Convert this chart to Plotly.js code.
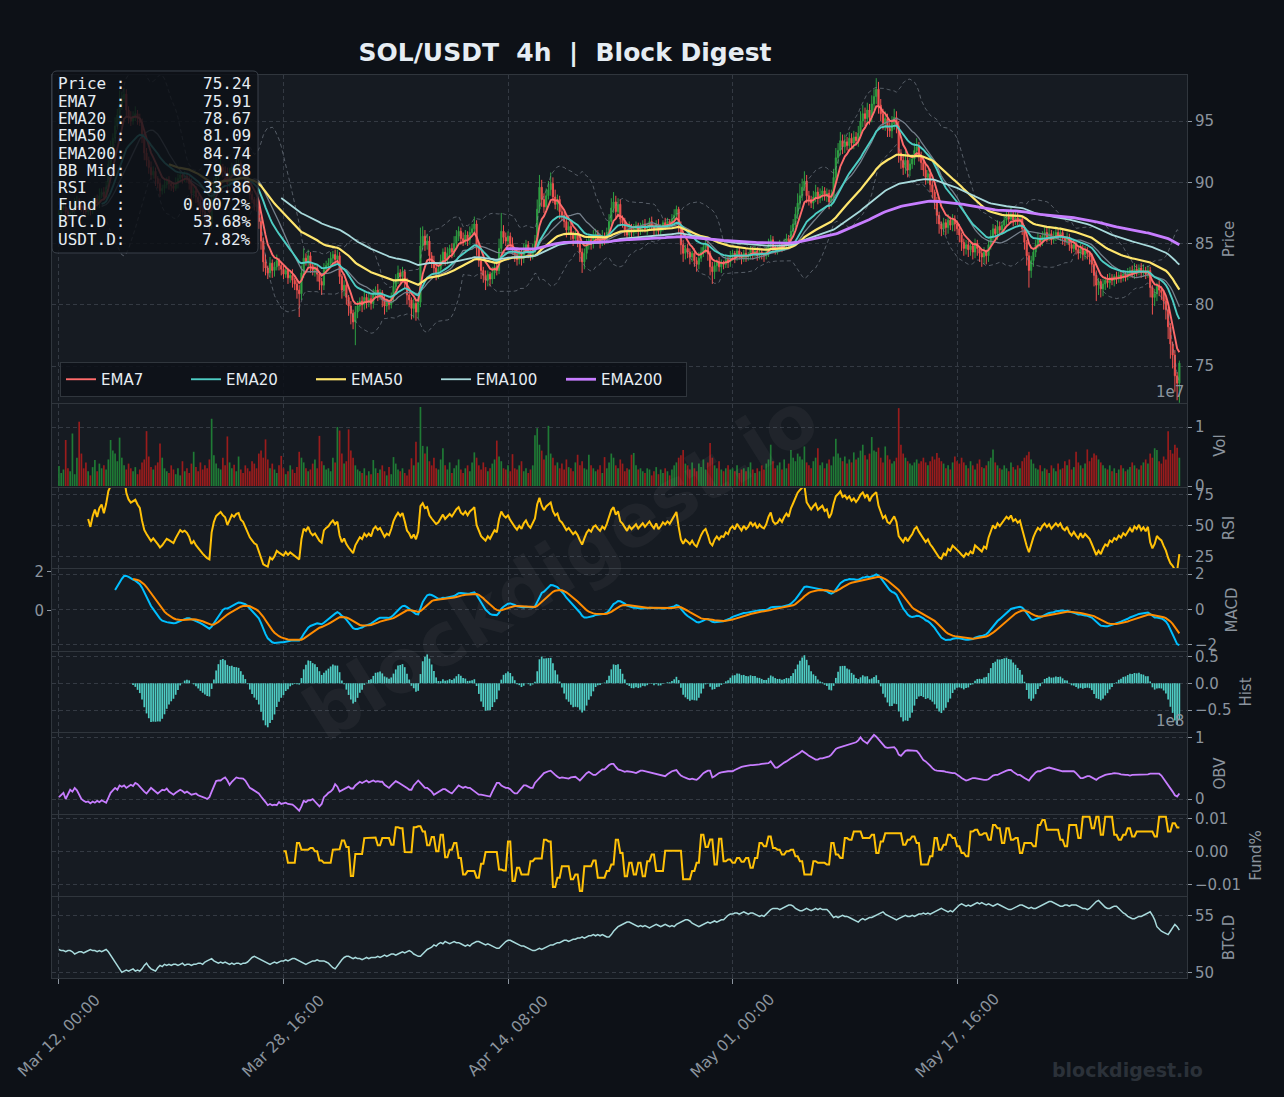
<!DOCTYPE html>
<html><head><meta charset="utf-8">
<script src="https://cdn.plot.ly/plotly-3.0.1.min.js"></script>
<style>html,body{margin:0;padding:0;background:#0d1117;}#chart{width:1284px;height:1097px;}</style>
</head><body><div id="chart"></div>
<script>
// ---------------- DATA ----------------
const tickIdx = [0, 100, 200, 300, 400];
const tickLabels = ['Mar 12, 00:00', 'Mar 28, 16:00', 'Apr 14, 08:00', 'May 01, 00:00', 'May 17, 16:00'];
const firstOpen = 87.3;
// 4h closes (SOL/USDT)
const closes = [
87.5,87.9,88.0,87.6,87.2,87.5,87.8,88.4,88.5,88.1,88.0,87.7,87.6,88.0,87.7,88.2,88.6,88.3,88.9,89.2,
88.8,89.6,91.5,92.8,93.6,94.6,95.5,96.3,96.8,97.2,95.9,95.3,95.0,95.4,95.6,95.2,94.9,93.6,92.4,91.8,
91.2,90.6,90.9,90.3,89.9,89.3,89.5,89.8,90.1,89.9,89.7,89.5,89.9,90.3,90.6,90.4,90.5,90.3,89.9,89.1,
89.3,88.8,88.4,87.9,87.6,87.2,86.8,86.6,88.6,89.8,90.6,90.9,91.2,90.9,90.7,89.9,90.6,91.2,91.0,91.4,
91.5,90.9,90.7,90.2,89.6,89.0,88.6,88.2,88.0,86.8,85.2,83.5,83.0,82.6,83.4,82.8,83.1,83.6,83.2,82.9,
82.5,82.8,82.2,82.4,82.0,81.7,81.2,80.9,82.6,83.8,83.5,84.0,83.2,82.8,83.0,82.5,81.9,81.6,82.9,83.2,
83.4,83.8,84.1,83.7,84.0,82.3,81.2,81.6,80.6,79.9,79.3,78.6,79.4,79.9,80.3,80.0,80.6,80.2,80.5,80.1,
80.9,81.2,80.8,81.0,80.4,79.9,80.2,80.0,80.6,81.5,82.1,82.6,82.3,82.7,81.9,80.8,80.4,79.7,80.1,79.4,
80.2,84.8,85.6,84.9,85.2,84.0,83.5,83.0,82.6,82.9,83.6,84.3,83.7,84.2,84.6,84.3,85.0,85.6,86.0,85.4,
85.2,85.7,85.3,85.9,86.2,86.6,84.6,83.6,82.8,82.4,82.0,82.5,82.1,82.6,83.1,82.8,84.6,86.0,85.5,85.2,
85.6,85.0,84.5,84.1,83.7,84.2,83.8,84.5,84.9,84.3,84.0,84.6,85.2,87.8,89.6,88.6,88.0,88.9,89.4,89.9,
88.8,88.2,88.6,87.6,87.3,86.8,86.1,86.4,85.8,85.4,85.7,85.2,84.3,83.5,84.2,84.9,85.3,85.0,85.6,85.8,
85.4,85.1,85.6,85.3,85.9,86.8,87.9,88.4,87.6,88.2,87.0,86.7,86.1,85.7,86.3,85.9,86.2,86.5,86.0,86.3,
86.6,86.2,86.5,86.8,86.4,86.1,86.6,86.0,86.3,86.7,86.5,86.8,86.6,87.0,87.3,87.8,86.5,84.9,84.2,84.6,
84.3,83.9,84.2,83.6,83.3,83.8,84.3,84.7,84.9,84.2,83.1,82.7,83.2,83.5,83.1,83.4,83.3,83.7,83.5,84.0,
84.2,83.9,84.4,84.1,83.8,84.2,83.9,84.1,84.5,84.2,84.4,84.0,84.3,84.1,84.0,84.3,84.9,85.3,84.7,84.5,
84.6,84.9,84.7,85.1,85.4,85.2,86.0,86.6,87.4,88.3,88.9,89.6,90.1,88.9,88.6,88.3,88.8,89.2,88.7,89.0,
89.3,88.9,89.1,88.4,88.9,90.4,92.0,92.6,93.4,92.9,93.3,93.0,93.6,93.2,93.7,93.4,94.0,95.0,95.6,95.2,
95.9,95.3,96.4,97.0,97.6,96.3,95.6,94.8,95.2,94.4,94.2,94.8,95.3,94.6,92.4,91.8,91.2,91.8,91.0,91.5,
91.9,92.6,92.9,92.2,91.6,91.0,90.4,90.7,89.8,89.2,88.4,87.3,86.6,86.2,86.7,86.3,86.9,86.5,87.0,86.6,
86.2,85.7,85.1,84.6,84.9,84.5,84.8,84.3,85.0,84.6,84.2,83.9,84.3,84.0,84.9,85.6,86.2,85.8,86.4,86.1,
86.5,86.9,87.2,87.0,87.4,86.9,87.1,86.8,87.0,86.2,85.1,84.0,82.8,83.6,84.3,84.9,85.4,85.1,85.6,85.9,
85.5,85.8,85.3,85.6,85.9,85.6,85.9,85.4,85.2,85.5,84.9,84.6,84.9,84.5,84.2,84.6,84.1,84.4,84.2,83.9,
83.3,82.4,81.6,81.9,81.3,81.7,82.0,81.8,82.2,82.0,82.3,82.1,82.4,82.2,82.5,82.3,82.6,82.8,82.5,82.9,
82.7,83.0,82.6,82.8,82.5,82.8,81.4,80.6,80.9,81.5,81.2,81.0,80.3,79.6,78.2,76.8,75.9,74.2,73.6,75.24
];
// upper / lower wick lengths, in tenths of a dollar
const wickUp = [
3,2,4,2,3,5,2,3,4,2,3,2,4,3,2,5,3,4,6,3,
4,5,3,6,4,7,5,12,6,5,4,3,5,4,6,3,4,3,5,4,
3,5,4,3,2,4,3,5,3,4,2,3,5,4,3,2,4,3,2,4,
3,4,2,3,5,2,3,4,8,6,5,4,7,3,4,5,6,4,3,5,
4,3,5,2,3,4,3,2,5,3,4,3,6,2,5,3,4,5,2,3,
3,4,2,3,5,2,3,4,6,8,4,5,3,2,4,3,2,3,5,4,
4,5,3,4,5,3,2,4,3,2,4,3,5,4,3,4,5,3,4,3,
4,3,5,3,2,4,3,2,4,5,4,6,3,4,2,3,4,2,4,3,
5,15,8,5,6,4,3,5,2,4,5,3,4,5,3,4,6,5,4,3,
5,4,3,5,4,6,3,4,2,3,4,3,2,5,4,3,8,15,5,4,
4,3,5,2,3,4,3,5,4,3,2,4,5,8,10,6,5,6,7,9,
5,6,4,3,4,3,5,4,3,2,4,3,2,3,4,5,4,3,5,4,
3,4,5,3,4,6,8,8,5,5,4,3,4,3,5,3,4,3,2,4,
3,4,2,3,4,2,3,4,3,2,4,3,2,4,5,3,2,3,4,3,
4,3,2,4,3,5,4,3,5,3,2,4,3,2,4,3,2,4,3,4,
3,2,4,3,2,3,4,2,3,2,4,3,2,3,2,4,5,4,3,2,
3,4,2,3,4,3,5,4,6,8,10,7,8,5,4,3,5,6,4,5,
4,3,4,3,5,7,8,6,7,5,6,4,5,4,5,4,6,8,7,5,
6,5,7,6,9,6,5,4,6,4,5,6,7,5,4,3,5,8,4,5,
4,6,7,4,3,4,5,3,4,3,2,4,3,2,4,3,5,3,4,3,
3,4,2,3,4,3,2,3,4,3,2,3,4,2,4,5,4,3,5,4,
3,4,5,4,6,3,5,4,3,2,3,2,3,4,3,4,5,3,4,5,
4,5,3,4,5,3,4,3,2,4,3,2,4,3,2,4,3,4,3,2,
3,2,4,3,2,4,3,5,4,3,2,4,3,4,3,2,4,3,4,5,
4,3,4,5,3,4,3,2,4,3,5,3,2,3,2,3,2,4,3,2
];
const wickDown = [
3,4,2,3,5,3,2,4,3,2,4,3,2,3,4,3,2,3,4,2,
3,2,4,3,2,4,3,5,4,3,6,5,4,3,4,5,3,4,6,5,
5,4,3,6,4,5,3,4,3,5,4,3,2,4,3,5,4,3,5,6,
4,5,3,5,4,6,5,7,4,3,5,4,3,5,4,6,3,4,5,3,
4,5,3,4,5,4,3,5,4,6,7,8,6,5,4,6,5,3,4,5,
4,3,5,4,6,5,7,19,5,4,3,5,6,4,5,6,7,8,4,3,
4,3,5,4,3,6,7,5,6,8,9,6,19,5,4,6,4,5,4,5,
4,3,5,4,6,7,5,4,3,4,3,4,5,4,6,8,6,9,8,7,
5,4,3,5,4,6,5,4,6,5,3,4,5,4,3,5,4,3,4,5,
4,3,5,4,3,4,6,5,7,6,8,5,6,4,5,4,3,4,5,4,
3,5,4,6,5,4,6,4,3,5,4,3,4,5,3,6,5,4,3,5,
5,4,5,6,4,5,6,4,5,6,4,5,8,9,6,5,4,5,4,3,
4,5,3,4,3,4,3,4,5,4,5,4,5,4,3,4,3,4,5,3,
4,3,5,4,3,5,4,3,4,3,4,3,4,3,4,3,6,8,7,5,
5,6,4,5,6,4,3,4,5,6,7,10,6,5,4,5,4,3,5,4,
4,5,3,4,5,3,4,3,4,5,3,4,3,4,5,3,4,3,5,4,
4,3,4,3,4,5,3,4,3,4,5,4,3,6,5,4,5,4,5,4,
5,4,5,6,4,5,4,5,4,6,5,4,5,4,5,4,5,4,5,6,
5,6,4,5,6,7,6,5,6,7,5,6,5,6,8,7,6,5,6,5,
4,5,4,5,6,5,6,5,6,5,6,7,8,6,5,6,5,4,5,6,
5,6,7,6,5,6,5,6,5,6,7,8,6,7,5,4,5,4,5,4,
4,5,4,3,4,5,4,3,4,5,6,8,14,6,5,4,3,4,3,4,
4,3,4,3,4,3,4,5,4,3,5,4,3,4,5,4,5,4,5,6,
7,9,13,8,7,6,5,4,5,4,5,4,3,4,3,4,3,4,3,4,
4,3,4,3,4,3,8,14,7,6,5,6,7,8,10,12,11,13,14,16
];
// volume in units of 1e5
const volume = [
34,22,28,78,30,25,89,20,48,109,55,30,40,25,18,32,44,25,38,30,
35,28,45,78,60,55,42,82,48,35,28,38,30,25,32,20,28,40,45,93,
50,32,28,35,40,72,48,30,25,22,35,28,20,30,18,42,25,30,22,38,
58,32,25,40,28,35,30,45,114,52,38,30,28,48,35,84,40,30,36,25,
50,28,22,35,30,25,42,38,30,55,60,48,79,45,30,38,28,22,35,51,
30,20,25,35,28,22,32,58,48,40,30,25,28,38,45,30,85,42,35,28,
30,25,48,40,100,94,55,38,42,96,60,48,35,28,25,22,30,18,25,20,
44,30,22,28,35,25,18,32,20,49,38,28,25,30,22,18,28,47,35,75,
40,134,68,55,67,42,35,48,30,28,45,64,35,28,40,22,30,35,45,28,
22,30,35,25,40,57,48,35,28,40,32,25,30,38,45,77,50,42,30,28,
35,25,54,30,28,35,42,25,30,22,28,35,86,98,70,60,45,52,102,55,
48,35,40,30,38,28,45,32,30,25,40,53,35,42,30,28,53,35,30,25,
28,35,22,49,30,40,55,48,35,30,45,38,25,30,28,53,56,35,28,30,
25,22,30,28,18,25,32,20,28,22,30,25,18,28,35,40,48,52,61,38,
35,28,40,30,25,38,32,45,28,40,73,48,35,30,42,28,25,30,35,28,
30,25,35,22,28,30,25,32,40,28,22,30,25,35,28,38,45,70,42,30,
35,40,28,45,30,38,61,48,42,55,50,45,67,40,35,30,42,48,64,35,
40,30,38,45,35,50,80,55,48,42,50,38,45,40,57,45,48,60,70,52,
45,55,83,60,58,65,48,40,67,52,45,38,42,48,132,70,55,48,42,38,
35,40,45,38,42,48,40,35,42,50,45,56,48,42,38,30,35,28,40,50,
42,38,48,40,35,30,42,35,28,38,45,32,30,35,42,48,62,40,35,30,
28,35,30,25,40,32,28,35,30,42,48,52,58,45,38,30,28,35,25,30,
28,22,35,30,25,38,28,30,42,35,45,28,32,58,40,35,30,38,62,42,
48,55,52,45,40,35,30,28,35,25,30,22,28,35,30,25,28,32,40,35,
30,28,35,40,45,38,55,48,64,61,42,38,50,45,93,61,55,70,65,48
];
// on-balance volume in units of 1e6
const obv = [
3,6,10,0,8,15,12,18,14,6,0,-3,-5,-4,-7,-4,-6,-3,-5,-2,
-4,-6,2,10,14,18,15,22,20,22,18,20,23,21,26,24,20,15,12,9,
14,18,15,12,9,12,15,14,17,12,10,7,10,12,15,13,10,12,9,7,
8,9,6,5,4,2,0,3,12,20,29,30,30,33,35,30,23,28,32,35,
34,33,33,30,25,18,16,14,12,9,4,0,-5,-10,-8,-10,-9,-10,-5,-8,
-7,-6,-8,-9,-9,-12,-15,-19,-12,-3,-5,-2,-2,0,-4,-8,-12,-8,3,6,
10,12,16,24,20,12,14,16,18,20,17,17,22,25,28,26,28,30,27,29,
30,28,29,28,28,23,20,18,22,26,29,27,25,23,20,18,15,15,22,27,
30,26,22,18,18,15,12,7,9,12,14,16,16,13,11,9,14,18,22,20,
18,20,18,18,15,12,10,7,7,6,5,4,4,12,20,26,26,22,20,18,
18,16,12,9,9,14,18,22,22,20,18,18,26,30,35,38,42,44,45,46,
42,39,36,34,35,34,33,33,35,36,36,33,30,34,38,42,44,41,39,39,
42,45,48,48,52,55,57,57,52,48,47,46,44,45,45,44,43,42,44,46,
46,45,44,43,42,42,41,40,39,38,37,40,43,45,46,47,42,38,36,34,
33,32,33,32,31,34,38,42,44,46,46,35,37,40,42,43,44,44,45,45,
45,47,49,51,52,53,54,54,55,55,55,56,56,57,57,57,58,61,55,51,
51,54,57,59,61,64,66,68,70,72,75,78,76,73,70,68,66,64,64,66,
66,67,67,69,72,76,81,83,84,85,86,88,89,90,91,92,95,100,95,92,
90,95,99,104,101,97,93,88,84,83,83,84,84,80,72,70,74,78,79,79,
79,79,78,74,68,63,61,58,54,50,47,46,46,45,45,44,43,43,42,42,
40,37,34,32,30,31,33,34,34,33,32,31,31,31,32,35,38,39,39,41,
43,45,46,47,47,44,41,39,39,36,34,32,30,35,40,43,45,45,47,49,
50,51,50,48,47,46,45,45,45,45,45,45,45,42,38,34,34,36,37,37,
35,33,31,34,36,38,39,40,40,41,42,42,41,40,39,39,39,38,39,39,
39,39,39,40,39,40,41,41,42,42,41,38,33,28,24,18,12,6,4,9
];
// funding rate every 8h (2 candles), from candle 100, in units of 0.001 %
const fundingStart = 100;
const funding8h = [
0,-3.5,-3.5,2.5,0.5,0.5,1,0,-2.8,-3.5,-3.5,0.5,0.6,3.3,1.3,-7.5,-0.8,-0.8,4,4.2,
4.2,1.8,4,4,2,7.3,7,-0.2,-0.3,7.3,7.6,6,1.8,4.3,0,5,-1.8,0.5,2.5,-2,
-7,-6,-6,-8,-3.8,-0.2,-0.2,-0.2,-5.5,-5.8,3,-9,-5,-7,-7,-3,-2.2,-2.2,3.5,3,
-10.8,-8,-4.5,-4.5,-8.5,-7,-12,-4.5,-4.5,-2.8,-8,-8,-6,-4,3.5,-0.5,-7.6,-3.5,-7,-3.5,
-7.6,-3,-1,-6,-6,0.2,0.2,0.2,0.2,-8.5,-8.5,-6,-3.5,5,1.3,3.6,-4,3.8,-3,-2.5,
-3.5,-2,-3.2,-2,-5,-2,2.5,1.5,4.5,1,0.5,-1,0,0.5,-1.5,-3,-7,-7,-3,-3.5,
-3.5,-4,2.5,-1,-2,4,3.5,6,6,4,4,5,-0.5,3,5.5,5.5,5.5,5.5,2,3.5,
4.5,2.5,-4,-4,-1.5,4,0.5,2,5,4,1.5,-0.5,-1.5,6,6.5,5,5.5,3.5,8,7,
2.5,7,3.5,4,-0.5,2.5,2.5,1.5,8,9.5,6.5,6.5,6.5,3.5,1.5,8,8,4,10.5,10.5,
7,10.5,5,10.5,10.5,5,3.5,5,7,4.5,6,6,6,6,4.5,10.5,10.5,6,8.5,7.2
];
// BTC dominance, %
const btcDom = [
52.0,51.9,51.9,51.8,51.9,51.9,51.8,51.6,51.7,51.8,51.8,51.7,51.8,51.9,52.0,51.9,51.9,51.8,51.9,51.8,
51.9,52.0,51.8,51.5,51.1,50.8,50.5,50.2,50.0,50.1,50.2,50.1,50.2,50.3,50.1,50.2,50.1,50.3,50.6,50.8,
50.5,50.3,50.2,50.1,50.4,50.6,50.5,50.7,50.6,50.7,50.6,50.7,50.7,50.6,50.7,50.8,50.6,50.7,50.7,50.6,
50.7,50.7,50.8,50.8,50.7,50.9,51.0,51.1,51.2,51.0,50.9,50.8,50.9,50.8,50.9,50.8,50.7,50.8,50.7,50.8,
50.8,50.7,50.8,50.8,50.9,51.1,51.3,51.4,51.3,51.2,51.1,51.0,50.9,50.8,50.7,50.8,50.9,50.8,50.9,51.0,
51.0,51.1,51.0,51.1,51.2,51.2,51.1,51.0,50.9,50.8,50.7,50.8,50.9,51.0,51.0,51.1,51.0,51.0,51.0,50.9,
50.8,50.6,50.4,50.3,50.6,50.9,51.1,51.3,51.4,51.4,51.3,51.2,51.3,51.2,51.2,51.1,51.2,51.3,51.2,51.3,
51.3,51.3,51.4,51.3,51.4,51.5,51.4,51.5,51.6,51.6,51.5,51.6,51.7,51.8,51.7,51.8,51.9,51.8,51.6,51.5,
51.4,51.4,51.6,51.8,52.0,52.1,52.2,52.4,52.3,52.5,52.6,52.5,52.7,52.6,52.5,52.6,52.7,52.6,52.6,52.5,
52.4,52.3,52.4,52.3,52.5,52.6,52.7,52.7,52.6,52.5,52.4,52.5,52.4,52.3,52.2,52.1,52.1,52.3,52.5,52.7,
52.8,52.8,52.7,52.6,52.5,52.4,52.3,52.3,52.2,52.1,52.0,51.9,51.9,52.0,52.1,52.0,52.1,52.2,52.3,52.4,
52.4,52.5,52.6,52.6,52.7,52.8,52.8,52.7,52.8,52.9,52.9,53.0,53.0,53.1,53.0,53.1,53.2,53.2,53.3,53.2,
53.3,53.2,53.3,53.2,53.1,53.1,53.3,53.6,53.8,54.0,54.1,54.2,54.3,54.4,54.4,54.3,54.2,54.1,54.0,54.1,
54.0,54.1,54.0,53.9,54.0,54.1,54.2,54.1,54.0,54.1,54.2,54.1,54.0,54.1,54.0,54.2,54.3,54.4,54.5,54.6,
54.6,54.5,54.3,54.2,54.1,54.0,54.1,54.2,54.3,54.4,54.3,54.4,54.5,54.4,54.5,54.6,54.6,54.8,55.0,55.1,
55.1,55.2,55.2,55.1,55.2,55.3,55.2,55.1,55.2,55.2,55.1,55.0,54.9,55.0,54.9,55.1,55.3,55.5,55.6,55.6,
55.6,55.5,55.6,55.7,55.8,55.9,55.9,55.8,55.6,55.5,55.4,55.4,55.5,55.6,55.5,55.4,55.5,55.6,55.5,55.6,
55.5,55.5,55.5,55.3,55.0,54.8,54.9,54.8,54.9,55.0,54.9,54.9,54.8,54.7,54.6,54.5,54.4,54.6,54.7,54.6,
54.7,54.8,54.8,54.9,55.0,55.1,55.2,55.3,55.1,55.0,54.9,54.8,54.7,54.6,54.7,54.8,54.9,55.0,54.9,54.9,
55.0,54.9,55.0,55.1,55.1,55.2,55.1,55.2,55.1,55.2,55.3,55.4,55.5,55.6,55.5,55.4,55.3,55.4,55.3,55.5,
55.7,55.9,56.0,55.9,55.8,55.9,55.8,55.9,56.0,56.1,56.0,56.1,56.0,55.9,56.0,55.9,55.8,55.9,56.0,55.9,
55.8,55.7,55.6,55.5,55.5,55.6,55.7,55.8,55.9,55.9,55.8,55.7,55.6,55.7,55.6,55.6,55.7,55.8,55.9,56.0,
56.1,56.2,56.2,56.1,56.0,55.9,55.8,55.8,55.9,55.9,55.8,55.9,55.9,55.9,55.8,55.7,55.6,55.6,55.5,55.6,
55.8,56.0,56.2,56.3,56.1,55.9,55.7,55.6,55.6,55.7,55.8,55.8,55.6,55.4,55.2,55.1,54.9,54.8,54.7,54.7,
54.8,54.9,54.9,55.0,55.1,55.2,55.3,55.0,54.6,54.0,53.8,53.6,53.5,53.4,53.3,53.6,53.9,54.2,54.0,53.7
];
const infoLabels = ['Price :', 'EMA7  :', 'EMA20 :', 'EMA50 :', 'EMA200:', 'BB Mid:', 'RSI   :', 'Fund  :', 'BTC.D :', 'USDT.D:'];
const infoValues = ['75.24', '75.91', '78.67', '81.09', '84.74', '79.68', '33.86', '0.0072%', '53.68%', '7.82%'];
const emaNames = ['EMA7', 'EMA20', 'EMA50', 'EMA100', 'EMA200'];
const emaSpans = [7, 20, 50, 100, 200];

// ---------------- DERIVED SERIES ----------------
const N = closes.length;
const xs = closes.map((_, i) => i);
const opens = closes.map((c, i) => i === 0 ? firstOpen : closes[i - 1]);
const highs = closes.map((c, i) => Math.max(opens[i], c) + wickUp[i] / 10);
const lows = closes.map((c, i) => Math.min(opens[i], c) - wickDown[i] / 10);

function ewmAdjusted(src, alpha, minP) {
  let num = 0, den = 0, n = 0;
  return src.map(v => {
    if (v === null || v === undefined) return null;
    num = v + (1 - alpha) * num; den = 1 + (1 - alpha) * den; n++;
    return n >= minP ? num / den : null;
  });
}
const ema = (src, span, minP) => ewmAdjusted(src, 2 / (span + 1), minP);
const bbMid = [], bbUp = [], bbLo = [];
for (let i = 0; i < N; i++) {
  if (i < 19) { bbMid.push(null); bbUp.push(null); bbLo.push(null); continue; }
  const w = closes.slice(i - 19, i + 1);
  const m = w.reduce((s, v) => s + v, 0) / 20;
  const sd = Math.sqrt(w.reduce((s, v) => s + (v - m) * (v - m), 0) / 19);
  bbMid.push(m); bbUp.push(m + 2 * sd); bbLo.push(m - 2 * sd);
}
const deltas = closes.map((c, i) => i === 0 ? null : c - closes[i - 1]);
const avgGain = ewmAdjusted(deltas.map(d => d === null ? null : Math.max(d, 0)), 1 / 14, 13);
const avgLoss = ewmAdjusted(deltas.map(d => d === null ? null : Math.max(-d, 0)), 1 / 14, 13);
const rsi = avgGain.map((g, i) => (g === null || avgLoss[i] === null) ? null
  : (avgLoss[i] === 0 ? 100 : 100 - 100 / (1 + g / avgLoss[i])));
const e12 = ema(closes, 12, 12), e26 = ema(closes, 26, 26);
const macd = closes.map((_, i) => (e12[i] !== null && e26[i] !== null) ? e12[i] - e26[i] : null);
const signal = ema(macd, 9, 9);
const hist = macd.map((m, i) => (m !== null && signal[i] !== null) ? m - signal[i] : null);
const volAbs = volume.map(v => v * 1e5);
const volCol = closes.map((c, i) => c >= opens[i] ? '#1f7a35' : '#9a1c1c');
const obvAbs = obv.map(v => v * 1e6);
const fund = xs.map(i => i < fundingStart ? null : funding8h[Math.floor((i - fundingStart) / 2)] / 1000);

// ---------------- LAYOUT HELPERS ----------------
const L = 52, R = 1187, T = 75, B = 978;
const px = p => (p - L) / (R - L);
const py = p => (B - p) / (B - T);
const GRID = '#343a43', FRAME = '#30363d', TXT = '#8b949e';
const XR = [-3.1, 502.4];
const panels = [
  { k: '',  top: 75,  bot: 403, range: [71.98, 98.76], tv: [75, 80, 85, 90, 95], title: 'Price' },
  { k: '2', top: 404, bot: 487, range: [-1.7e5, 1.39e7], tv: [0, 1e7], tt: ['0', '1'], title: 'Vol' },
  { k: '3', top: 488, bot: 568, range: [16.1, 80.6], tv: [25, 50, 75], title: 'RSI' },
  { k: '4', top: 569, bot: 651, range: [-2.37, 2.29], tv: [-2, 0, 2], title: 'MACD' },
  { k: '5', top: 652, bot: 732, range: [-0.912, 0.586], tv: [-0.5, 0, 0.5], fmt: '.1f', title: 'Hist' },
  { k: '6', top: 733, bot: 814, range: [-0.243e8, 1.07e8], tv: [0, 1e8], tt: ['0', '1'], title: 'OBV' },
  { k: '7', top: 815, bot: 896, range: [-0.01355, 0.0110], tv: [-0.01, 0, 0.01], fmt: '.2f', title: 'Fund%' },
  { k: '8', top: 897, bot: 978, range: [49.5, 56.6], tv: [50, 55], title: 'BTC.D' }
];
const tickfont = { family: 'DejaVu Sans', size: 15, color: TXT };
const layout = {
  width: 1284, height: 1097,
  paper_bgcolor: '#0d1117', plot_bgcolor: '#161b22',
  margin: { l: L, r: 1284 - R, t: T, b: 1097 - B },
  showlegend: true, bargap: 0.25, hovermode: false,
  title: { text: '<b>SOL/USDT\u00a0\u00a04h\u00a0\u00a0|\u00a0\u00a0Block Digest</b>', x: 565 / 1284, xanchor: 'center',
           y: 1 - 52 / 1097, yanchor: 'middle', font: { family: 'DejaVu Sans', size: 25, color: '#e6edf3' } },
  legend: { orientation: 'h', x: px(60), y: py(397), xanchor: 'left', yanchor: 'bottom',
            bgcolor: 'rgba(13,17,23,0.85)', bordercolor: FRAME, borderwidth: 1,
            font: { family: 'DejaVu Sans', size: 15, color: '#e6edf3' }, entrywidth: 80, entrywidthmode: 'pixels' },
  shapes: [], annotations: []
};
panels.forEach((p, n) => {
  const last = n === panels.length - 1;
  layout['xaxis' + p.k] = {
    domain: [0, 1], range: XR, anchor: 'y' + p.k, showgrid: true, gridcolor: GRID, griddash: '4px,3px',
    tickmode: 'array', tickvals: tickIdx, showticklabels: false,
    ticks: last ? 'outside' : '', ticklen: 5, tickcolor: TXT,
    showline: true, mirror: true, linecolor: FRAME, linewidth: 1, zeroline: false, fixedrange: true,
    rangeslider: { visible: false }
  };
  layout['yaxis' + p.k] = {
    domain: [py(p.bot), py(p.top)], range: p.range, anchor: 'x' + p.k, side: 'right',
    showgrid: true, gridcolor: GRID, griddash: '4px,3px', tickmode: 'array', tickvals: p.tv,
    ticktext: p.tt, tickformat: p.fmt, ticks: 'outside', ticklen: 4, tickcolor: TXT, tickfont: tickfont,
    showline: true, mirror: true, linecolor: FRAME, linewidth: 1, zeroline: false, fixedrange: true,
    title: { text: p.title, font: { family: 'DejaVu Sans', size: 15, color: TXT }, standoff: 10 }
  };
});
// left-hand MACD scale
layout.yaxis9 = { overlaying: 'y4', anchor: 'x4', side: 'left', range: [-2.07, 2.14], tickmode: 'array',
  tickvals: [0, 2], ticks: 'outside', ticklen: 4, tickcolor: TXT, tickfont: tickfont, showgrid: false,
  zeroline: false, showline: false, fixedrange: true };
// date labels of the shared time axis, centred on their ticks (placed through the bottom x axis scale)
tickIdx.forEach((v, k) => layout.annotations.push({ xref: 'x8', yref: 'paper', x: v, y: py(1036),
  xanchor: 'center', yanchor: 'middle', textangle: -45, text: tickLabels[k], showarrow: false,
  font: { family: 'DejaVu Sans', size: 15.5, color: TXT } }));

// info box
const bx0 = 52, bx1 = 258, by0 = 71, by1 = 253, rr = 5;
const X = p => px(p).toFixed(5), Y = p => py(p).toFixed(5);
layout.shapes.push({ type: 'path', xref: 'paper', yref: 'paper', layer: 'above',
  path: `M${X(bx0 + rr)},${Y(by0)} L${X(bx1 - rr)},${Y(by0)} Q${X(bx1)},${Y(by0)} ${X(bx1)},${Y(by0 + rr)} ` +
        `L${X(bx1)},${Y(by1 - rr)} Q${X(bx1)},${Y(by1)} ${X(bx1 - rr)},${Y(by1)} L${X(bx0 + rr)},${Y(by1)} ` +
        `Q${X(bx0)},${Y(by1)} ${X(bx0)},${Y(by1 - rr)} L${X(bx0)},${Y(by0 + rr)} Q${X(bx0)},${Y(by0)} ${X(bx0 + rr)},${Y(by0)} Z`,
  fillcolor: 'rgba(13,17,23,0.84)', line: { color: '#3a414a', width: 1 } });
const mono = { family: 'DejaVu Sans Mono', size: 16, color: '#e6edf3' };
infoLabels.forEach((lab, k) => {
  const yy = py(84 + 17.25 * k);
  layout.annotations.push({ xref: 'paper', yref: 'paper', x: px(56), y: yy, xanchor: 'left', yanchor: 'middle',
    text: lab.replace(/ /g, '\u00a0'), showarrow: false, font: mono });
  layout.annotations.push({ xref: 'paper', yref: 'paper', x: px(253), y: yy, xanchor: 'right', yanchor: 'middle',
    text: infoValues[k], showarrow: false, font: mono });
});
// offsets & watermarks
layout.annotations.push({ xref: 'paper', yref: 'paper', x: px(1186), y: py(392), xanchor: 'right', yanchor: 'middle',
  text: '1e7', showarrow: false, font: { family: 'DejaVu Sans', size: 15, color: TXT } });
layout.annotations.push({ xref: 'paper', yref: 'paper', x: px(1186), y: py(721), xanchor: 'right', yanchor: 'middle',
  text: '1e8', showarrow: false, font: { family: 'DejaVu Sans', size: 15, color: TXT } });
layout.annotations.push({ xref: 'paper', yref: 'paper', x: px(560), y: py(566), xanchor: 'center', yanchor: 'middle',
  text: '<b>blockdigest.io</b>', textangle: -32, showarrow: false,
  font: { family: 'DejaVu Sans', size: 74, color: 'rgba(255,255,255,0.045)' } });
layout.annotations.push({ xref: 'paper', yref: 'paper', x: px(1205), y: py(1070), xanchor: 'right', yanchor: 'middle',
  text: '<b>blockdigest.io</b>', showarrow: false, font: { family: 'DejaVu Sans', size: 19, color: '#2b3139' } });

// ---------------- TRACES ----------------
const UP = '#2ea043', DN = '#f0524f';
const emaColors = ['#ff6b6b', '#4ecdc4', '#ffe66d', '#a8dadc', '#c77dff'];
const emaWidths = [1.9, 1.9, 2.2, 1.8, 2.8];
const traces = [
  { type: 'scatter', mode: 'lines', x: xs, y: bbUp, xaxis: 'x', yaxis: 'y', showlegend: false,
    line: { color: 'rgba(139,148,158,0.55)', width: 1, dash: '4px,3px' } },
  { type: 'scatter', mode: 'lines', x: xs, y: bbLo, xaxis: 'x', yaxis: 'y', showlegend: false,
    line: { color: 'rgba(139,148,158,0.55)', width: 1, dash: '4px,3px' } },
  { type: 'candlestick', x: xs, open: opens, high: highs, low: lows, close: closes, xaxis: 'x', yaxis: 'y',
    showlegend: false, whiskerwidth: 0,
    increasing: { line: { color: UP, width: 1 }, fillcolor: UP },
    decreasing: { line: { color: DN, width: 1 }, fillcolor: DN } },
  { type: 'scatter', mode: 'lines', x: xs, y: bbMid, xaxis: 'x', yaxis: 'y', showlegend: false,
    line: { color: '#76808c', width: 1.3 } }
];
emaSpans.forEach((s, k) => traces.push({ type: 'scatter', mode: 'lines', name: emaNames[k], x: xs,
  y: ema(closes, s, s), xaxis: 'x', yaxis: 'y', line: { color: emaColors[k], width: emaWidths[k] } }));
traces.push(
  { type: 'bar', x: xs, y: volAbs, xaxis: 'x2', yaxis: 'y2', showlegend: false, marker: { color: volCol, line: { width: 0 } } },
  { type: 'scatter', mode: 'lines', x: xs, y: rsi, xaxis: 'x3', yaxis: 'y3', showlegend: false, line: { color: '#ffc107', width: 2 } },
  { type: 'scatter', mode: 'lines', x: xs, y: macd, xaxis: 'x4', yaxis: 'y4', showlegend: false, line: { color: '#00bfff', width: 2 } },
  { type: 'scatter', mode: 'lines', x: xs, y: signal, xaxis: 'x4', yaxis: 'y4', showlegend: false, line: { color: '#ff8c00', width: 2 } },
  { type: 'scatter', mode: 'lines', x: [], y: [], xaxis: 'x4', yaxis: 'y9', showlegend: false },
  { type: 'bar', x: xs, y: hist, xaxis: 'x5', yaxis: 'y5', showlegend: false, marker: { color: '#4ecdc4', line: { width: 0 } } },
  { type: 'scatter', mode: 'lines', x: xs, y: obvAbs, xaxis: 'x6', yaxis: 'y6', showlegend: false, line: { color: '#c77dff', width: 1.8 } },
  { type: 'scatter', mode: 'lines', x: xs, y: fund, xaxis: 'x7', yaxis: 'y7', showlegend: false, line: { color: '#ffc107', width: 2 } },
  { type: 'scatter', mode: 'lines', x: xs, y: btcDom, xaxis: 'x8', yaxis: 'y8', showlegend: false, line: { color: '#a8dadc', width: 1.5 } }
);
Plotly.newPlot('chart', traces, layout, { staticPlot: true, displayModeBar: false });
</script>
</body></html>
